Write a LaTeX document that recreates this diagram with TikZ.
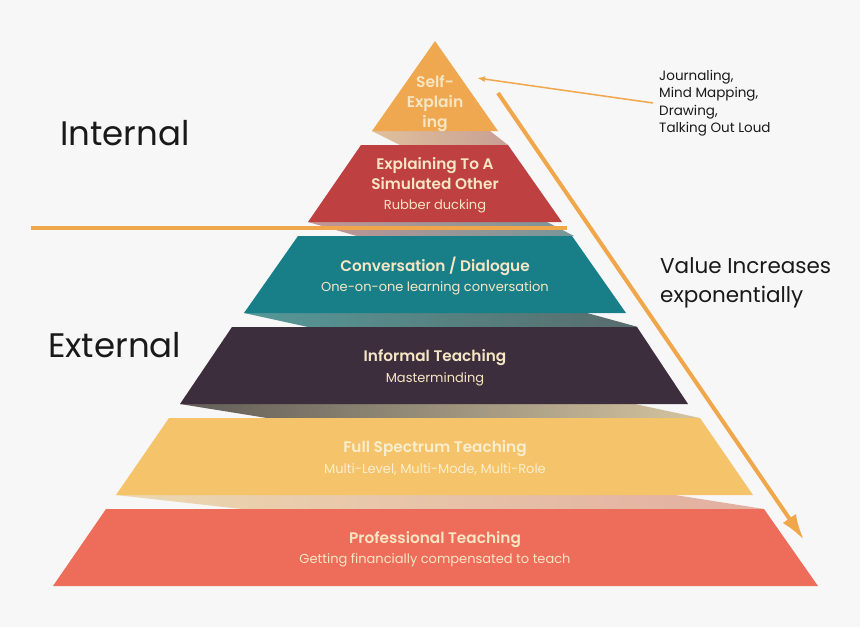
\documentclass[tikz,border=0pt]{standalone}
\usepackage{fontspec}
\setmainfont{Poppins}[BoldFont={Poppins SemiBold}]
\usetikzlibrary{arrows.meta}
\definecolor{bg}{RGB}{247,247,247}
\definecolor{cOrange}{RGB}{240,168,80}
\definecolor{cRed}{RGB}{190,64,64}
\definecolor{cTeal}{RGB}{24,127,137}
\definecolor{cDark}{RGB}{61,46,61}
\definecolor{cYellow}{RGB}{245,195,105}
\definecolor{cCoral}{RGB}{238,108,90}
\definecolor{cLine}{RGB}{240,166,74}
\definecolor{cText}{RGB}{246,230,196}
\definecolor{cTextY}{RGB}{250,238,208}
\definecolor{cInk}{RGB}{25,25,25}
\tikzset{
  ttl/.style={anchor=base, inner sep=0pt, text=cText, font=\fontsize{15.3}{18}\selectfont\bfseries},
  sub/.style={anchor=base, inner sep=0pt, text=cText, font=\fontsize{13}{16}\selectfont},
  big/.style={anchor=base west, inner sep=0pt, text=cInk, font=\fontsize{34}{40}\selectfont},
  mid/.style={anchor=base west, inner sep=0pt, text=cInk, font=\fontsize{21.5}{26}\selectfont},
  small/.style={anchor=base west, inner sep=0pt, text=cInk, font=\fontsize{13.5}{16}\selectfont},
}
\begin{document}
\begin{tikzpicture}[x=1pt,y=-1pt]
\fill[bg] (0,0) rectangle (860,627);
\useasboundingbox (0,0) rectangle (860,627);

% shadows
\shade[left color={rgb,255:red,224;green,192;blue,156}, right color={rgb,255:red,200;green,160;blue,148}]
  (372,131) -- (490,131) -- (508,145) -- (400,145) -- cycle;
\shade[left color={rgb,255:red,196;green,150;blue,150}, right color={rgb,255:red,118;green,150;blue,152}]
  (308,222) -- (547,222) -- (574,236) -- (357,236) -- cycle;
\shade[left color={rgb,255:red,86;green,152;blue,152}, right color={rgb,255:red,88;green,108;blue,108}]
  (244,313) -- (587,313) -- (638,327) -- (308,327) -- cycle;
\shade[left color={rgb,255:red,96;green,92;blue,86}, right color={rgb,255:red,212;green,196;blue,160}]
  (180,404) -- (635,404) -- (700,418) -- (267,418) -- cycle;
\shade[left color={rgb,255:red,236;green,216;blue,176}, right color={rgb,255:red,226;green,174;blue,160}]
  (116,495) -- (675,495) -- (764,509) -- (242,509) -- cycle;

% layers
\fill[cOrange] (435,41) -- (498,131) -- (372,131) -- cycle;
\fill[cRed] (361,145) -- (508,145) -- (562,222) -- (308,222) -- cycle;
\draw[cLine, line width=4pt] (31,228) -- (567,228);
\fill[cTeal] (298,236) -- (572,236) -- (626,313) -- (244,313) -- cycle;
\fill[cDark] (232,327) -- (637,327) -- (688,404) -- (180,404) -- cycle;
\fill[cYellow] (169,418) -- (700,418) -- (753,495) -- (116,495) -- cycle;
\fill[cCoral] (106,509) -- (764,509) -- (818,586) -- (53,586) -- cycle;

% layer texts
\node[ttl, font=\fontsize{15.5}{18}\selectfont\bfseries] (se1) at (435,87) {Self-};
\node[ttl, font=\fontsize{15.5}{18}\selectfont\bfseries] (se2) at (435,107) {Explain};
\node[ttl, font=\fontsize{15.5}{18}\selectfont\bfseries] (se3) at (435,127) {ing};

\node[ttl] (ex1) at (435,169) {Explaining To A};
\node[ttl] (ex2) at (435,189) {Simulated Other};
\node[sub] (exs) at (435,209) {Rubber ducking};

\node[ttl] (cv) at (435,271) {Conversation / Dialogue};
\node[sub] (cvs) at (435,291) {One-on-one learning conversation};

\node[ttl] (it) at (435,361) {Informal Teaching};
\node[sub] (its) at (435,382) {Masterminding};

\node[ttl, text=cTextY] (fs) at (435,452) {Full Spectrum Teaching};
\node[sub, text=cTextY] (fss) at (435,473) {Multi-Level, Multi-Mode, Multi-Role};

\node[ttl] (pt) at (435,543) {Professional Teaching};
\node[sub] (pts) at (435,563) {Getting financially compensated to teach};

% side labels
\node[big] (internal) at (60,145) {Internal};
\node[big] (external) at (48,357) {External};
\node[mid] (val1) at (660,273) {Value Increases};
\node[mid] (val2) at (660,302) {exponentially};

\node[small] (j1) at (659,80) {Journaling,};
\node[small] (j2) at (659,97.5) {Mind Mapping,};
\node[small] (j3) at (659,115) {Drawing,};
\node[small] (j4) at (659,132.5) {Talking Out Loud};

% arrows
\coordinate (thinS) at (653,103);
\coordinate (thinE) at (477,78);
\draw[cLine, line width=1.5pt, -{Latex[length=8pt,width=6pt]}] (thinS) -- (thinE);
\coordinate (bigS) at (498,93);
\coordinate (bigE) at (804,540);
\draw[cLine, line width=4pt, -{Latex[length=26pt,width=16pt]}] (bigS) -- (bigE);
\end{tikzpicture}
\end{document}
